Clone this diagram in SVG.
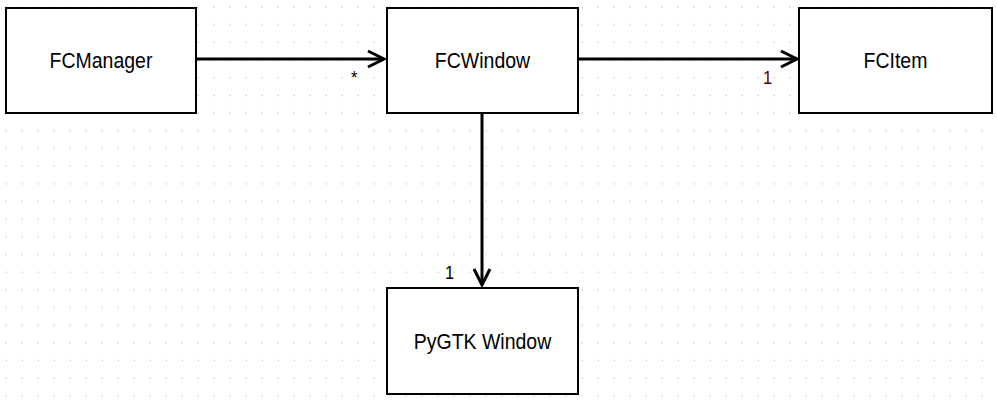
<svg xmlns="http://www.w3.org/2000/svg" width="997" height="407" viewBox="0 0 997 407">
<defs>
<style>
.box{fill:#fff;stroke:#000;stroke-width:2}
.lbl{font-family:"Liberation Sans",Arial,sans-serif;font-size:19.5px;fill:#000;text-anchor:middle}
.mult{font-family:"Liberation Sans",Arial,sans-serif;font-size:16.5px;fill:#000}
.conn{stroke:#000;stroke-width:3;fill:none}
</style>
<pattern id="grid" patternUnits="userSpaceOnUse" x="0" y="0" width="16" height="17.67">
<rect x="5.5" y="6.5" width="1.3" height="1.3" fill="#c4c4c4"/>
</pattern>
<marker id="arr" markerUnits="userSpaceOnUse" markerWidth="24" markerHeight="24" refX="18" refY="12" orient="auto" overflow="visible">
<path d="M2,4 L18,12 L2,20" fill="none" stroke="#000" stroke-width="3" stroke-linejoin="miter"/>
</marker>
</defs>
<rect width="997" height="407" fill="#fff"/>
<rect width="997" height="407" fill="url(#grid)"/>
<g id="connectors">
<path class="conn" d="M197,59 L384,59" marker-end="url(#arr)"/>
<path class="conn" d="M579,59 L797,59" marker-end="url(#arr)"/>
<path class="conn" d="M482,114 L482,285" marker-end="url(#arr)"/>
<text class="mult" transform="translate(351,84) scale(1,1.1)">*</text>
<text class="mult" transform="translate(763,84) scale(1,1.1)" style="fill:#500000">1</text>
<text class="mult" transform="translate(445,279) scale(1,1.1)">1</text>
</g>
<g id="FCManager">
<rect class="box" x="6" y="8" width="190" height="105"/>
<text class="lbl" transform="translate(101,68) scale(1,1.1)">FCManager</text>
</g>
<g id="FCWindow">
<rect class="box" x="387" y="8" width="191" height="105"/>
<text class="lbl" transform="translate(482.5,68) scale(1,1.1)">FCWindow</text>
</g>
<g id="FCItem">
<rect class="box" x="799" y="8" width="193" height="105"/>
<text class="lbl" transform="translate(895.5,68) scale(1,1.1)">FCItem</text>
</g>
<g id="PyGTKWindow">
<rect class="box" x="387" y="288" width="191" height="106"/>
<text class="lbl" transform="translate(482.5,349) scale(1,1.1)">PyGTK Window</text>
</g>
</svg>
